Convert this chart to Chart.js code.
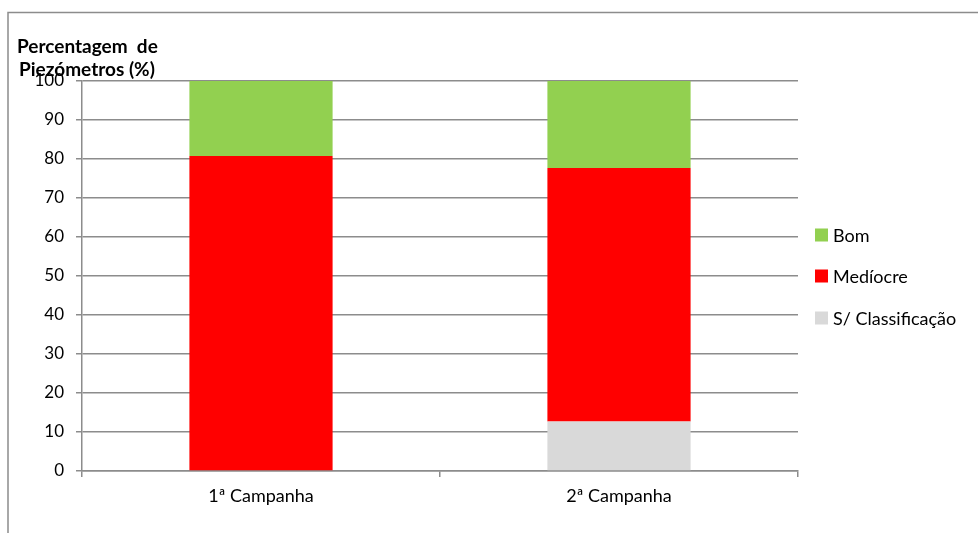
<!DOCTYPE html>
<html>
<head>
<meta charset="utf-8">
<script src="https://cdn.jsdelivr.net/npm/chart.js@4.4.1/dist/chart.umd.min.js"></script>
<style>
  html, body { margin: 0; padding: 0; background: #fff; }
  #wrap { width: 978px; height: 533px; }
</style>
</head>
<body>
<div id="wrap"><canvas id="my-chart" width="978" height="533"></canvas></div>
<script>
'use strict';

// ********** Data **********
let campanhas = ['1ª Campanha', '2ª Campanha'];
let semClassificacao = [0, 12.7];
let mediocre = [80.8, 65.0];
let bom = [19.2, 22.3];
let yTicks = [0, 10, 20, 30, 40, 50, 60, 70, 80, 90, 100];
let titleLines = ['Percentagem  de', 'Piezómetros (%)'];

let gridColor = '#8c8c8c';
let fontName = 'Lato, Carlito, Calibri, sans-serif';

// ********** Plugins **********
// chart border (only top and left visible) + axis title + legend on the right
let extrasPlugin = {
  id: 'extras',
  beforeDraw(chart) {
    let ctx = chart.ctx;
    ctx.save();
    ctx.strokeStyle = gridColor;
    ctx.lineWidth = 1.5;
    ctx.beginPath();
    ctx.moveTo(8, 533);
    ctx.lineTo(8, 12.5);
    ctx.lineTo(978, 12.5);
    ctx.stroke();
    ctx.restore();
  },
  afterDraw(chart) {
    let ctx = chart.ctx;
    ctx.save();
    ctx.fillStyle = '#000';
    ctx.textBaseline = 'alphabetic';
    ctx.textAlign = 'left';
    ctx.font = 'bold 19px ' + fontName;
    ctx.fillText(titleLines[0], 17, 53);
    ctx.fillText(titleLines[1], 19, 76);

    // legend, top series first
    let sets = chart.data.datasets.slice().reverse();
    let ys = [235, 276, 318];
    ctx.font = '18px ' + fontName;
    ctx.textBaseline = 'middle';
    for (let i = 0; i < sets.length; i++) {
      ctx.fillStyle = sets[i].backgroundColor;
      ctx.fillRect(815, ys[i] - 6.5, 13, 13);
      ctx.fillStyle = '#000';
      ctx.fillText(sets[i].label, 833, ys[i] + 1);
    }
    ctx.restore();
  }
};

// ********** Chart **********
let canvasElem = document.getElementById('my-chart');

let myObj = {
  type: 'bar',
  data: {
    labels: campanhas,
    datasets: [
      { label: 'S/ Classificação', data: semClassificacao, backgroundColor: '#d9d9d9' },
      { label: 'Medíocre', data: mediocre, backgroundColor: '#ff0000' },
      { label: 'Bom', data: bom, backgroundColor: '#92d050' }
    ]
  },
  options: {
    responsive: false,
    animation: false,
    layout: { padding: { left: 0, top: 81, right: 180, bottom: 0 } },
    datasets: {
      bar: { barPercentage: 0.4, categoryPercentage: 1, borderWidth: 0 }
    },
    plugins: {
      legend: { display: false },
      tooltip: { enabled: false }
    },
    scales: {
      x: {
        stacked: true,
        afterFit(scale) { scale.height = 62; },
        grid: {
          offset: true,
          drawOnChartArea: false,
          drawTicks: true,
          tickLength: 6,
          color: gridColor,
          lineWidth: 1.5
        },
        border: { color: gridColor, width: 1.5 },
        ticks: { color: '#000', font: { family: fontName, size: 18 }, padding: 8 }
      },
      y: {
        stacked: true,
        min: 0,
        max: 100,
        afterFit(scale) { scale.width = 82; },
        afterBuildTicks(scale) { scale.ticks = yTicks.map(v => ({ value: v })); },
        grid: { color: gridColor, lineWidth: 1.5, tickLength: 6 },
        border: { color: gridColor, width: 1.5 },
        ticks: { color: '#000', font: { family: fontName, size: 17 }, padding: 12 }
      }
    }
  },
  plugins: [extrasPlugin]
};

new Chart(canvasElem, myObj);
</script>
</body>
</html>
